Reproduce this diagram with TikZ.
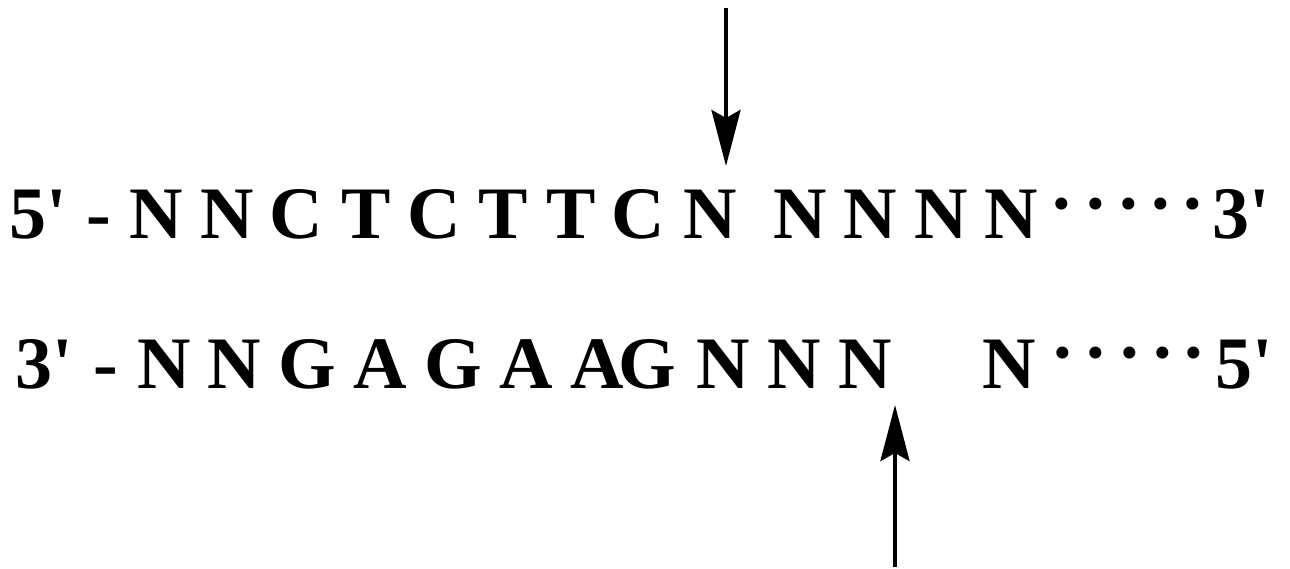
\documentclass[tikz,border=0pt]{standalone}
\usepackage{fontspec}
\setmainfont{Liberation Serif}[Ligatures=TeXOff]
\usetikzlibrary{arrows.meta}

\begin{document}
\begin{tikzpicture}[x=1pt,y=-1pt,
    base/.style={anchor=base,inner sep=0pt,font=\fontsize{74}{74}\selectfont\bfseries},
    dotmark/.style={base,anchor=north},
    cut/.style={-{Stealth[length=56pt,width=29pt,inset=8pt]},line width=4pt}]
  \useasboundingbox (0,0) rectangle (1290,569);
  % upper strand
  \foreach \x/\b [count=\i] in {38/5',99/-,156/N,227/N,296/C,366/T,434/C,503/T,571/T,638/C,710/N,
      800/N,870/N,941/N,1011/N,1241/3'}
    \node[base] (u\i) at (\x,239) {\b};
  \foreach \x [count=\i] in {1062,1096,1129,1161,1193}
    \node[dotmark] (ud\i) at (\x,198) {·};
  % lower strand
  \foreach \x/\b [count=\i] in {44/3',106/-,164/N,234/N,307/G,380/A,453/G,526/A,597/A,647/G,
      723/N,794/N,865/N,1009/N,1244/5'}
    \node[base] (l\i) at (\x,388) {\b};
  \foreach \x [count=\i] in {1063,1096,1130,1163,1194}
    \node[dotmark] (ld\i) at (\x,347) {·};
  % cleavage sites
  \coordinate (topStart) at (726,8);
  \coordinate (topCut) at (726,166);
  \coordinate (botStart) at (895,567);
  \coordinate (botCut) at (895,405);
  \draw[cut] (topStart) -- (topCut);
  \draw[cut] (botStart) -- (botCut);
\end{tikzpicture}
\end{document}
